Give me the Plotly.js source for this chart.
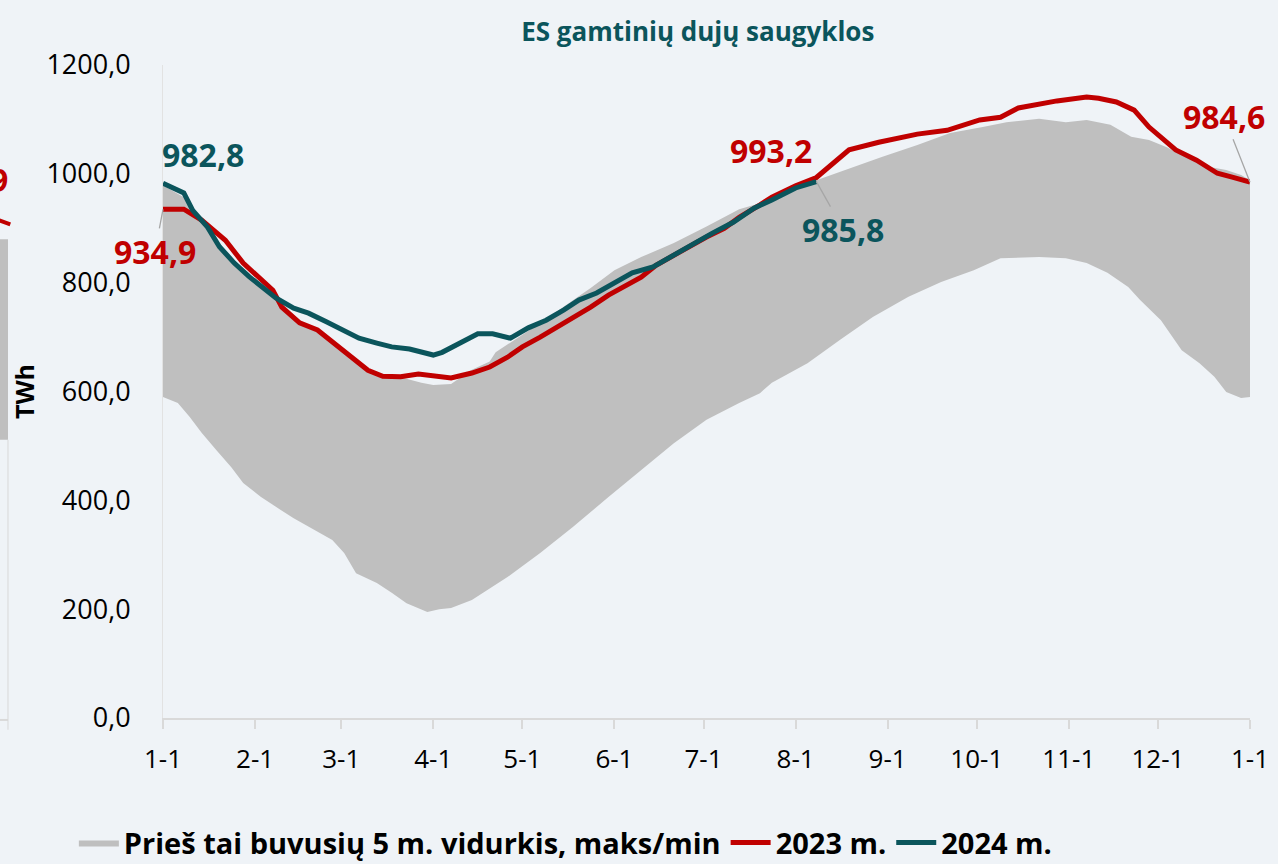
<!DOCTYPE html>
<html><head><meta charset="utf-8">
<script src="https://cdn.plot.ly/plotly-3.0.1.min.js"></script>
<style>html,body{margin:0;padding:0;background:#eff3f7;}#chart{width:1278px;height:864px;}</style>
</head><body><div id="chart"></div>
<script>
// ---- data ----
const monthTicks = ['2024-01-01','2024-02-01','2024-03-01','2024-04-01','2024-05-01','2024-06-01','2024-07-01','2024-08-01','2024-09-01','2024-10-01','2024-11-01','2024-12-01','2025-01-01'];
const monthLabels = ['1-1','2-1','3-1','4-1','5-1','6-1','7-1','8-1','9-1','10-1','11-1','12-1','1-1'];

const bandMaxDates = ['2024-01-01','2024-01-08','2024-01-13','2024-01-19','2024-01-25','2024-01-30','2024-02-05','2024-02-10','2024-02-16','2024-02-22','2024-02-27','2024-03-04','2024-03-10','2024-03-15','2024-03-22','2024-03-28','2024-04-01','2024-04-07','2024-04-14','2024-04-20','2024-04-22','2024-05-07','2024-05-24','2024-06-01','2024-06-10','2024-06-21','2024-07-02','2024-07-13','2024-07-20','2024-07-29','2024-08-08','2024-08-19','2024-08-30','2024-09-11','2024-09-22','2024-10-03','2024-10-11','2024-10-22','2024-10-31','2024-11-07','2024-11-15','2024-11-22','2024-11-28','2024-12-04','2024-12-11','2024-12-18','2024-12-24','2024-12-29','2025-01-01'];
const bandMax = [979,957,921,878,842,810,786,762,731,713,691,663,639,630,625,616,612,614,640,655,672,726,790,823,847,873,903,935,946,965,988,1010,1031,1053,1075,1086,1095,1101,1095,1099,1090,1068,1062,1049,1029,1013,1007,998,988];

const bandMinDates = ['2024-01-01','2024-01-06','2024-01-10','2024-01-14','2024-01-19','2024-01-24','2024-01-28','2024-02-03','2024-02-08','2024-02-14','2024-02-19','2024-02-27','2024-03-02','2024-03-06','2024-03-13','2024-03-18','2024-03-23','2024-03-30','2024-04-03','2024-04-07','2024-04-14','2024-04-26','2024-05-07','2024-05-18','2024-05-30','2024-06-10','2024-06-21','2024-07-02','2024-07-13','2024-07-20','2024-07-24','2024-08-05','2024-08-16','2024-08-27','2024-09-08','2024-09-19','2024-09-30','2024-10-09','2024-10-22','2024-10-31','2024-11-07','2024-11-14','2024-11-21','2024-11-25','2024-12-02','2024-12-09','2024-12-15','2024-12-20','2024-12-24','2024-12-29','2025-01-01'];
const bandMin = [590,579,553,524,492,461,432,406,388,367,351,327,303,266,248,230,211,195,200,202,217,259,303,351,406,456,505,548,579,597,616,652,695,737,774,801,823,845,847,845,836,818,792,768,731,676,652,627,599,588,590];

const dates2023 = ['2024-01-01','2024-01-08','2024-01-14','2024-01-22','2024-01-28','2024-02-03','2024-02-07','2024-02-10','2024-02-16','2024-02-22','2024-02-27','2024-03-04','2024-03-10','2024-03-15','2024-03-21','2024-03-27','2024-04-01','2024-04-07','2024-04-14','2024-04-20','2024-04-26','2024-05-01','2024-05-07','2024-05-13','2024-05-18','2024-05-24','2024-05-30','2024-06-04','2024-06-10','2024-06-15','2024-06-21','2024-06-26','2024-07-02','2024-07-08','2024-07-13','2024-07-20','2024-07-24','2024-08-01','2024-08-08','2024-08-19','2024-08-29','2024-09-11','2024-09-21','2024-10-02','2024-10-09','2024-10-15','2024-10-28','2024-11-07','2024-11-11','2024-11-17','2024-11-23','2024-11-28','2024-12-04','2024-12-07','2024-12-14','2024-12-21','2024-12-26','2025-01-01'];
const values2023 = [934.9,935,915,878,836,805,786,755,726,713,691,663,639,628,627,632,628,625,634,645,663,682,700,719,737,755,777,792,810,832,851,866,884,900,920,943,957,978,993.2,1044,1058,1073,1080,1099,1104,1121,1134,1141,1139,1132,1117,1086,1057,1044,1025,1001,994,984.6];

const dates2024 = ['2024-01-01','2024-01-08','2024-01-11','2024-01-16','2024-01-20','2024-01-25','2024-01-30','2024-02-04','2024-02-08','2024-02-14','2024-02-19','2024-02-25','2024-03-02','2024-03-07','2024-03-13','2024-03-18','2024-03-24','2024-04-01','2024-04-04','2024-04-10','2024-04-16','2024-04-21','2024-04-27','2024-05-03','2024-05-09','2024-05-15','2024-05-20','2024-05-26','2024-06-01','2024-06-07','2024-06-14','2024-06-21','2024-06-27','2024-07-04','2024-07-11','2024-07-18','2024-07-24','2024-08-01','2024-08-08'];
const values2024 = [982.8,965,933,902,866,836,811,790,772,753,744,728,713,698,689,682,678,667,672,689,706,706,698,717,731,750,768,781,799,818,829,851,869,891,911,937,952,974,985.8];

const seriesNames = ['Prieš tai buvusių 5 m. vidurkis, maks/min','2023 m.','2024 m.'];
const chartTitle = 'ES gamtinių dujų saugyklos';
const yTitle = 'TWh';

// ---- styling ----
const RED = '#c00000', TEAL = '#0b555c', GRAY = '#bfbfbf', BG = '#eff3f7';
const FONT = 'Open Sans, Noto Sans, sans-serif';
const fmt = v => v.toFixed(1).replace('.', ',');

const band = {
  x: bandMaxDates.concat(bandMinDates.slice().reverse()),
  y: bandMax.concat(bandMin.slice().reverse()),
  type: 'scatter', mode: 'lines', fill: 'toself', fillcolor: GRAY,
  line: {width: 0, color: GRAY}, name: seriesNames[0], hoverinfo: 'skip'
};
const t2023 = {x: dates2023, y: values2023, type: 'scatter', mode: 'lines',
  line: {color: RED, width: 5}, name: seriesNames[1]};
const t2024 = {x: dates2024, y: values2024, type: 'scatter', mode: 'lines',
  line: {color: TEAL, width: 5}, name: seriesNames[2]};

const n23 = values2023.length, n24 = values2024.length;
const i23at24 = dates2023.indexOf(dates2024[n24 - 1]);
const annFont = c => ({family: FONT, size: 32, color: c, weight: 'bold'});

const annotations = [
  {x: dates2024[0], y: values2024[0], text: fmt(values2024[0]), showarrow: false,
   xanchor: 'left', yanchor: 'middle', xshift: -3, yshift: 29, font: annFont(TEAL)},
  {x: dates2023[0], y: values2023[0], text: fmt(values2023[0]), showarrow: true,
   arrowhead: 0, arrowwidth: 1.3, arrowcolor: '#a6a6a6', ax: -8, ay: 42, font: annFont(RED)},
  {x: dates2023[i23at24], y: values2023[i23at24], text: fmt(values2023[i23at24]), showarrow: false,
   xanchor: 'right', yanchor: 'middle', xshift: -2, yshift: 27, font: annFont(RED)},
  {x: dates2024[n24 - 1], y: values2024[n24 - 1], text: fmt(values2024[n24 - 1]), showarrow: true,
   arrowhead: 0, arrowwidth: 1.3, arrowcolor: '#a6a6a6', ax: 27, ay: 48, font: annFont(TEAL)},
  {x: dates2023[n23 - 1], y: values2023[n23 - 1], text: fmt(values2023[n23 - 1]), showarrow: true,
   arrowhead: 0, arrowwidth: 1.3, arrowcolor: '#a6a6a6', ax: -26, ay: -66, font: annFont(RED)},
  // clipped neighbouring chart on the left edge
  {xref: 'paper', yref: 'paper', x: -0.1405, y: 0.824, text: fmt(values2023[0]), showarrow: false,
   xanchor: 'right', yanchor: 'middle', font: annFont(RED)}
];

const shapes = [
  {type: 'rect', xref: 'paper', yref: 'paper', x0: -0.16, x1: -0.1426, y0: 0.426, y1: 0.733,
   fillcolor: GRAY, line: {width: 0}, layer: 'below'},
  {type: 'line', xref: 'paper', yref: 'paper', x0: -0.1426, x1: -0.1426, y0: -0.018, y1: 0.426,
   line: {color: '#d9d9d9', width: 1}},
  {type: 'line', xref: 'paper', yref: 'paper', x0: -0.16, x1: -0.1426, y0: -0.003, y1: -0.003,
   line: {color: '#d9d9d9', width: 2}},
  {type: 'line', xref: 'paper', yref: 'paper', x0: -0.16, x1: -0.1405, y0: 0.768, y1: 0.756,
   line: {color: RED, width: 4}}
];

const layout = {
  width: 1278, height: 864,
  paper_bgcolor: BG, plot_bgcolor: BG,
  margin: {l: 163, r: 28, t: 65, b: 146, autoexpand: false},
  separators: ',.',
  font: {family: FONT, color: '#000000', size: 26},
  title: {text: chartTitle, font: {family: FONT, size: 26, color: TEAL, weight: 'bold'},
    xref: 'container', yref: 'container', x: 0.546, y: 0.963, xanchor: 'center', yanchor: 'middle'},
  showlegend: true,
  legend: {orientation: 'h', x: -0.082, xanchor: 'left', y: -0.152, yanchor: 'top',
    font: {family: FONT, size: 29, color: '#000000', weight: 'bold'},
    bgcolor: 'rgba(0,0,0,0)', itemwidth: 40, traceorder: 'normal'},
  xaxis: {type: 'date', range: ['2024-01-01', '2025-01-01'],
    tickvals: monthTicks, ticktext: monthLabels,
    showgrid: false, zeroline: false, showline: true, linecolor: '#d9d9d9', linewidth: 2,
    ticks: 'outside', ticklen: 9, tickwidth: 2, tickcolor: '#d9d9d9',
    tickfont: {family: FONT, size: 26, color: '#000000'}, ticklabelstandoff: 8, fixedrange: true},
  yaxis: {range: [0, 1200], dtick: 200, tickformat: '.1f',
    showgrid: false, zeroline: false, showline: true, linecolor: '#e2e2e2', linewidth: 1,
    ticks: '', tickfont: {family: FONT, size: 27, color: '#000000'}, ticklabelstandoff: 26,
    title: {text: yTitle, font: {family: FONT, size: 25, color: '#000000', weight: 'bold'}, standoff: 4},
    fixedrange: true},
  annotations: annotations,
  shapes: shapes
};

Plotly.newPlot('chart', [band, t2023, t2024], layout, {displayModeBar: false, staticPlot: true});
</script></body></html>
